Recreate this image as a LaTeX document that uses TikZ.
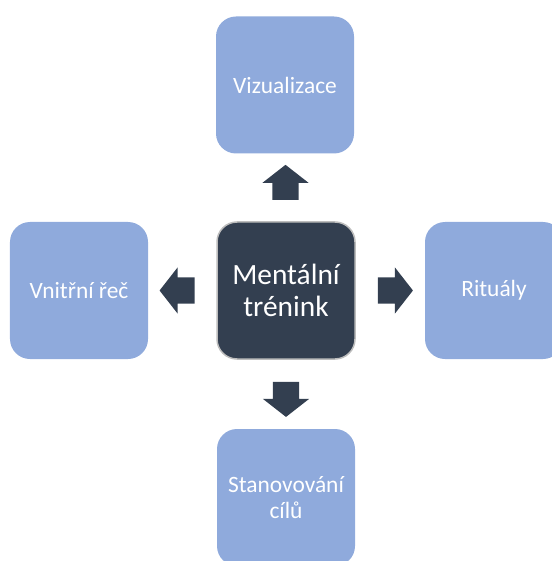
\documentclass[tikz,border=0pt]{standalone}
\usepackage{fontspec}
\setmainfont{Carlito}
\usetikzlibrary{shapes.arrows,calc}
\definecolor{boxblue}{HTML}{8FAADC}
\definecolor{darkslate}{HTML}{333F50}
\definecolor{rimgray}{HTML}{BDBDBD}

\begin{document}
\begin{tikzpicture}[x=1bp,y=-1bp]
\useasboundingbox (0,0) rectangle (552,561);
\clip (0,0) rectangle (552,561);
%%%%%%%%%%%%%%%%%%%%%%%%%%%%%%%%%%%%%%%%%%%%%%%%%%%%%%%%%%%%%%%%%%%%%%%%
%styles
\tikzstyle{vertex}=[rectangle,rounded corners=20bp,fill=boxblue,minimum width=138bp,minimum height=137bp,inner sep=2bp,text=white,align=center,font=\fontsize{23.5}{26}\selectfont]
\tikzstyle{hub}=[vertex,fill=darkslate,draw=rimgray,line width=1.5bp,font=\fontsize{29.5}{32}\selectfont]
\tikzstyle{blockarrow}=[single arrow,fill=darkslate,inner xsep=0pt,inner ysep=13bp,minimum height=35bp,minimum width=46bp,single arrow head extend=10bp,single arrow tip angle=104]

%centre
\node[hub] (ment) at (286,290.5) {Mentální\\trénink};

%boxes
\node[vertex] (viz) at (285,85) {Vizualizace};
\node[vertex] (vnit) at (79,290.5) {Vnitřní řeč};
\node[vertex] (rit) at (494,290.5) {Rituály};
\node[vertex] (stan) at (286,497.5) {Stanovování\\cílů};

%arrows
\node[blockarrow,rotate=90] (aviz) at ($(ment.north)!0.5!(viz.south)$) {};
\node[blockarrow,rotate=180] (avnit) at ($(ment.west)!0.5!(vnit.east)$) {};
\node[blockarrow] (arit) at ($(ment.east)!0.5!(rit.west)$) {};
\node[blockarrow,rotate=-90] (astan) at ($(ment.south)!0.5!(stan.north)$) {};

\end{tikzpicture}
\end{document}
